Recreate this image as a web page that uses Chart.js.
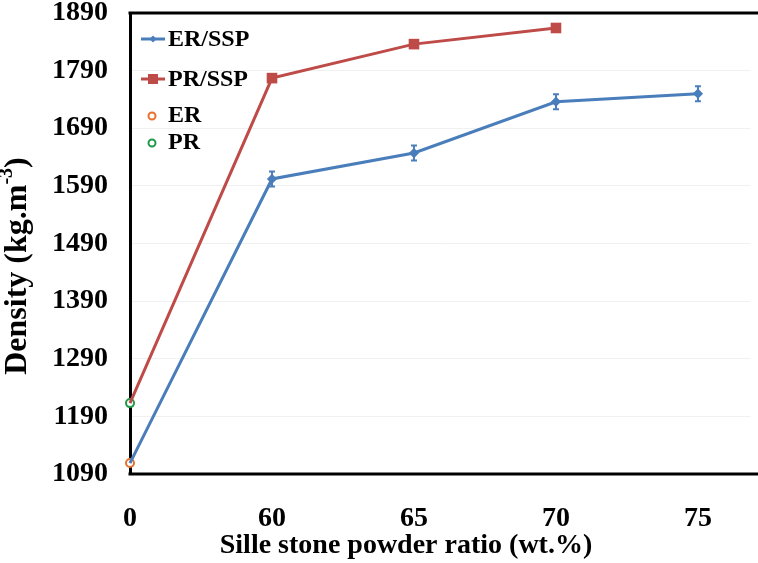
<!DOCTYPE html>
<html>
<head>
<meta charset="utf-8">
<script src="https://cdn.jsdelivr.net/npm/chart.js@4.4.1/dist/chart.umd.min.js"></script>
<style>
  body { margin: 0; background: #fff; }
</style>
</head>
<body>
<canvas id="densityChart" width="758" height="563"></canvas>
<script>
/* data */
const ratios = ['0', '60', '65', '70', '75'];
const erSsp = [1109, 1602, 1647, 1736, 1750];
const erSspErr = [0, 13, 13, 13, 13];
const prSsp = [1213, 1777, 1836, 1864];
const erNeat = [1109];
const prNeat = [1213];
const yTicks = [1090, 1190, 1290, 1390, 1490, 1590, 1690, 1790, 1890];

const BLUE = '#4A7EBB';
const RED = '#BE4B48';
const ORANGE = '#E8712B';
const GREEN = '#1F9A48';
const FONT = '"Liberation Serif", "Times New Roman", serif';

const toPoints = arr => arr.map((v, i) => ({ x: i, y: v }));

/* error bars on ER/SSP */
const errorBars = {
  id: 'errorBars',
  afterDatasetsDraw(chart) {
    const { ctx, scales: { x, y } } = chart;
    ctx.save();
    ctx.strokeStyle = BLUE;
    ctx.lineWidth = 2;
    erSsp.forEach((v, i) => {
      const e = erSspErr[i];
      if (!e) return;
      const px = x.getPixelForValue(i);
      const top = y.getPixelForValue(v + e);
      const bot = y.getPixelForValue(v - e);
      ctx.beginPath();
      ctx.moveTo(px, top); ctx.lineTo(px, bot);
      ctx.moveTo(px - 3, top); ctx.lineTo(px + 3, top);
      ctx.moveTo(px - 3, bot); ctx.lineTo(px + 3, bot);
      ctx.stroke();
    });
    ctx.restore();
  }
};

/* frame lines, legend inside the plot, axis titles */
const decorations = {
  id: 'decorations',
  beforeDatasetsDraw(chart) {
    const { ctx, chartArea } = chart;
    ctx.save();
    // top frame line and bottom axis, both running to the right edge
    ctx.strokeStyle = '#000';
    ctx.lineWidth = 3;
    ctx.beginPath();
    ctx.moveTo(chartArea.left - 1.5, chartArea.top);
    ctx.lineTo(chart.width, chartArea.top);
    ctx.moveTo(chartArea.left - 1.5, chartArea.bottom);
    ctx.lineTo(chart.width, chartArea.bottom);
    ctx.stroke();
    ctx.restore();
  },
  afterDraw(chart) {
    const { ctx } = chart;
    ctx.save();

    // legend
    ctx.font = 'bold 24px ' + FONT;
    ctx.fillStyle = '#000';
    ctx.textBaseline = 'middle';
    ctx.textAlign = 'left';
    const items = [
      { label: 'ER/SSP', y: 39, kind: 'line', color: BLUE },
      { label: 'PR/SSP', y: 79, kind: 'square', color: RED },
      { label: 'ER', y: 115, kind: 'circle', color: ORANGE },
      { label: 'PR', y: 142, kind: 'circle', color: GREEN }
    ];
    items.forEach(it => {
      if (it.kind === 'circle') {
        ctx.beginPath();
        ctx.arc(152, it.y + 1, 3.5, 0, Math.PI * 2);
        ctx.fillStyle = '#fff';
        ctx.fill();
        ctx.lineWidth = 2;
        ctx.strokeStyle = it.color;
        ctx.stroke();
      } else {
        ctx.strokeStyle = it.color;
        ctx.lineWidth = 3;
        ctx.beginPath();
        ctx.moveTo(141, it.y); ctx.lineTo(165, it.y);
        ctx.stroke();
        ctx.fillStyle = it.color;
        if (it.kind === 'square') {
          ctx.fillRect(148, it.y - 5, 10, 10);
        } else {
          ctx.beginPath();
          ctx.moveTo(153, it.y - 3.5); ctx.lineTo(156.5, it.y);
          ctx.lineTo(153, it.y + 3.5); ctx.lineTo(149.5, it.y);
          ctx.closePath();
          ctx.fill();
        }
      }
      ctx.fillStyle = '#000';
      ctx.fillText(it.label, 168, it.y + 1);
    });

    // x title
    ctx.font = 'bold 28px ' + FONT;
    ctx.textAlign = 'center';
    ctx.fillText('Sille stone powder ratio (wt.%)', 406, 546);

    // y title with superscript
    ctx.translate(18, 266);
    ctx.rotate(-Math.PI / 2);
    const main = 'Density (kg.m';
    const sup = '-3';
    const end = ')';
    const supFont = 'bold 20px ' + FONT;
    const mainFont = 'bold 32px ' + FONT;
    ctx.font = mainFont;
    const wMain = ctx.measureText(main).width;
    const wEnd = ctx.measureText(end).width;
    ctx.font = supFont;
    const wSup = ctx.measureText(sup).width;
    let x0 = -(wMain + wSup + wEnd) / 2;
    ctx.textAlign = 'left';
    ctx.font = mainFont;
    ctx.fillText(main, x0, 0);
    ctx.font = supFont;
    ctx.fillText(sup, x0 + wMain, -11);
    ctx.font = mainFont;
    ctx.fillText(end, x0 + wMain + wSup, 0);
    ctx.restore();
  }
};

const tickFont = { family: FONT, size: 28, weight: 'bold' };

new Chart(document.getElementById('densityChart'), {
  type: 'line',
  data: {
    datasets: [
      {
        label: 'ER/SSP',
        data: toPoints(erSsp),
        borderColor: BLUE,
        backgroundColor: BLUE,
        borderWidth: 3,
        pointStyle: 'rectRot',
        pointRadius: erSsp.map((v, i) => (i === 0 ? 0 : 3)),
        clip: false
      },
      {
        label: 'PR/SSP',
        data: toPoints(prSsp),
        borderColor: RED,
        backgroundColor: RED,
        borderWidth: 3,
        pointStyle: 'rect',
        pointRadius: prSsp.map((v, i) => (i === 0 ? 0 : 7.5)),
        pointBorderWidth: 0,
        clip: false
      },
      {
        label: 'ER',
        data: toPoints(erNeat),
        showLine: false,
        borderColor: ORANGE,
        backgroundColor: '#fff',
        pointRadius: 4,
        pointBorderWidth: 2,
        clip: false
      },
      {
        label: 'PR',
        data: toPoints(prNeat),
        showLine: false,
        borderColor: GREEN,
        backgroundColor: '#fff',
        pointRadius: 4,
        pointBorderWidth: 2,
        clip: false
      }
    ]
  },
  options: {
    responsive: false,
    animation: false,
    layout: { padding: { top: 13, left: 0, right: 0, bottom: 0 } },
    plugins: {
      legend: { display: false },
      tooltip: { enabled: false }
    },
    scales: {
      x: {
        type: 'linear',
        min: 0,
        max: 4.37,
        grid: { display: false },
        border: { display: false },
        ticks: {
          font: tickFont,
          color: '#000',
          padding: 20,
          callback: v => ratios[v]
        },
        afterBuildTicks: s => { s.ticks = ratios.map((r, i) => ({ value: i })); },
        afterFit: s => {
          s.height = 89;
          s.paddingLeft = 0;
          s.paddingRight = 0;
        }
      },
      y: {
        min: 1090,
        max: 1890,
        grid: { color: '#f0f0f0', lineWidth: 1, drawTicks: false },
        border: { color: '#000', width: 3 },
        ticks: {
          font: tickFont,
          color: '#000',
          padding: 22,
          callback: v => String(v)
        },
        afterBuildTicks: s => { s.ticks = yTicks.map(v => ({ value: v })); },
        afterFit: s => {
          s.width = 130;
          s.paddingTop = 0;
          s.paddingBottom = 0;
        }
      }
    }
  },
  plugins: [errorBars, decorations]
});
</script>
</body>
</html>
